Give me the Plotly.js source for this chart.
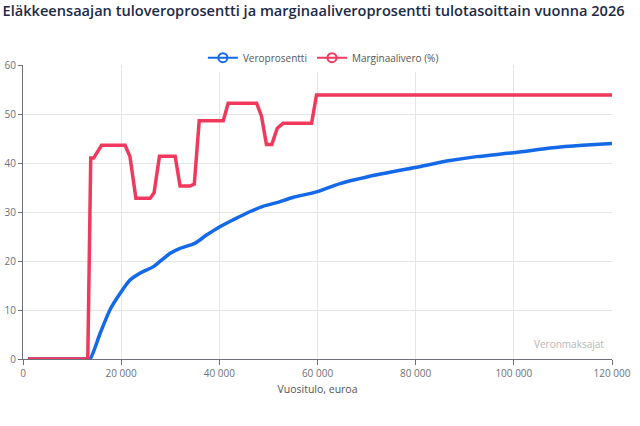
<!DOCTYPE html>
<html>
<head>
<meta charset="utf-8">
<script src="https://cdn.plot.ly/plotly-3.0.1.min.js"></script>
<style>
  html, body { margin: 0; padding: 0; background: #fff; }
  #graph { width: 640px; height: 426px; }
</style>
</head>
<body>
<div id="graph"></div>
<script>
// Veroprosentti (keskimääräinen tuloveroprosentti)
var veroX = [1000, 13000, 13650, 15700, 17700, 19800, 21800, 23800, 26500, 27900, 30000, 32000,
    35000, 37400, 40100, 42800, 46300, 49000, 51700, 55100, 59800, 64600, 72100, 79900,
    87000, 92400, 99900, 108000, 114000, 120000]
var veroY = [0, 0, 0, 5.2, 10, 13.4, 16.1, 17.5, 18.8, 19.9, 21.6, 22.6,
    23.6, 25.3, 27.0, 28.4, 30.1, 31.2, 31.9, 33.0, 34.1, 35.8, 37.6, 39.1,
    40.5, 41.3, 42.1, 43.1, 43.6, 44.0]

// Marginaalivero (%)
var margX = [1000, 13200, 13800, 14400, 16000, 20800, 21800, 23000, 25900, 26700, 27800, 31000,
    32000, 34000, 34900, 35900, 40800, 41800, 47600, 48600, 49600, 50700, 51800, 53000,
    58800, 59800, 120000]
var margY = [0, 0, 41.0, 41.0, 43.6, 43.6, 41.3, 32.8, 32.8, 33.9, 41.4, 41.4,
    35.3, 35.3, 35.7, 48.6, 48.6, 52.2, 52.2, 49.5, 43.8, 43.8, 47.1, 48.1,
    48.1, 53.9, 53.9]

var xTicks = [0, 20000, 40000, 60000, 80000, 100000, 120000]

var blue = '#1369e8'
var red = '#f0395c'

function main() {
    var data = [
        {x: veroX, y: veroY, mode: 'lines', type: 'scatter', name: 'Veroprosentti',
         line: {color: blue, width: 3.5, shape: 'spline', smoothing: 0.7}, showlegend: false},
        {x: margX, y: margY, mode: 'lines', type: 'scatter', name: 'Marginaalivero (%)',
         line: {color: red, width: 3.5}, showlegend: false},
        // legend entries with hollow circle like the original
        {x: [null], y: [null], mode: 'lines+markers', type: 'scatter', name: 'Veroprosentti',
         line: {color: blue, width: 2}, marker: {symbol: 'circle-open', size: 9, color: blue, line: {width: 2}}},
        {x: [null], y: [null], mode: 'lines+markers', type: 'scatter', name: 'Marginaalivero (%)',
         line: {color: red, width: 2}, marker: {symbol: 'circle-open', size: 9, color: red, line: {width: 2}}}
    ]

    var layout = {
        width: 640,
        height: 426,
        paper_bgcolor: '#fff',
        plot_bgcolor: '#fff',
        separators: ', ',
        font: {family: 'Open Sans, Noto Sans, sans-serif', color: '#6e7079', size: 10},
        margin: {l: 23, r: 28, t: 65, b: 67},
        title: {
            text: 'Eläkkeensaajan tuloveroprosentti ja marginaaliveroprosentti tulotasoittain vuonna 2026',
            x: 0.004, xanchor: 'left', y: 0.986, yanchor: 'top',
            font: {family: 'Open Sans, Noto Sans, sans-serif', size: 14.6, color: '#1b2a47', weight: 600}
        },
        showlegend: true,
        legend: {
            orientation: 'h', x: 0.51, xanchor: 'center', y: 1.025, yanchor: 'middle',
            font: {size: 10, color: '#555'}, itemwidth: 30, tracegroupgap: 0
        },
        xaxis: {
            range: [0, 120000],
            tickvals: xTicks,
            tickformat: ',d',
            showgrid: true,
            gridcolor: '#e6e6ea',
            zeroline: false,
            showline: true,
            linecolor: '#6e7079',
            ticks: 'outside',
            ticklen: 5,
            tickcolor: '#6e7079',
            tickfont: {size: 10, color: '#6e7079'},
            title: {text: 'Vuositulo, euroa', standoff: 6, font: {size: 10.5, color: '#555'}},
            fixedrange: true
        },
        yaxis: {
            range: [0, 60],
            dtick: 10,
            showgrid: true,
            gridcolor: '#e6e6ea',
            zeroline: false,
            showline: true,
            linecolor: '#6e7079',
            ticks: 'outside',
            ticklen: 4,
            tickcolor: '#6e7079',
            tickfont: {size: 10, color: '#6e7079'},
            fixedrange: true
        },
        annotations: [{
            text: 'Veronmaksajat', xref: 'paper', yref: 'paper', x: 0.99, y: 0.02,
            xanchor: 'right', yanchor: 'bottom', showarrow: false,
            font: {size: 10, color: '#b5b5b5'}
        }]
    }

    Plotly.newPlot('graph', data, layout, {displayModeBar: false, staticPlot: true})
}

main()
</script>
</body>
</html>
